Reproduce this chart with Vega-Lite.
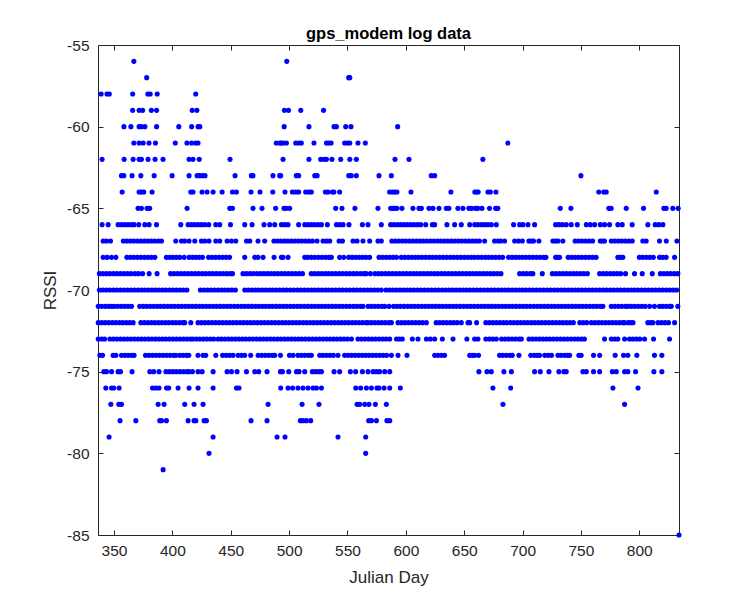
{
"$schema": "https://vega.github.io/schema/vega-lite/v6.json",
"width": 581, "height": 490,
"autosize": {"type": "none"},
"padding": {"left": 98, "top": 45, "right": 71, "bottom": 65},
"background": "white",
"title": {"text": "gps_modem log data", "fontSize": 16.5, "fontWeight": "bold", "font": "Liberation Sans", "color": "#000000", "offset": -4, "anchor": "middle"},
"config": {"view": {"stroke": "#262626", "strokeWidth": 1}},
"data": {"values": [
{"d":367,"r":-56},{"d":498,"r":-56},
{"d":378,"r":-57},{"d":551,"r":-57},{"d":552,"r":-57},
{"d":339,"r":-58},{"d":344,"r":-58},{"d":346,"r":-58},{"d":366,"r":-58},{"d":379,"r":-58},{"d":381,"r":-58},{"d":387,"r":-58},{"d":420,"r":-58},
{"d":366,"r":-59},{"d":371.5,"r":-59},{"d":374.5,"r":-59},{"d":382,"r":-59},{"d":386.5,"r":-59},{"d":417,"r":-59},{"d":421,"r":-59},{"d":496,"r":-59},{"d":499.5,"r":-59},{"d":510,"r":-59},{"d":529.5,"r":-59},
{"d":358.5,"r":-60},{"d":364.5,"r":-60},{"d":371.5,"r":-60},{"d":373.5,"r":-60},{"d":376.5,"r":-60},{"d":386.5,"r":-60},{"d":405.5,"r":-60},{"d":416.5,"r":-60},{"d":422,"r":-60},{"d":423.5,"r":-60},{"d":495.8,"r":-60},{"d":517,"r":-60},{"d":538.5,"r":-60},{"d":540.5,"r":-60},{"d":548.5,"r":-60},{"d":553,"r":-60},{"d":593,"r":-60},
{"d":367,"r":-61},{"d":371.5,"r":-61},{"d":375,"r":-61},{"d":380,"r":-61},{"d":385.5,"r":-61},{"d":402.5,"r":-61},{"d":412.5,"r":-61},{"d":416.5,"r":-61},{"d":420,"r":-61},{"d":422,"r":-61},{"d":489,"r":-61},{"d":492,"r":-61},{"d":493.4,"r":-61},{"d":495,"r":-61},{"d":497.7,"r":-61},{"d":505.7,"r":-61},{"d":508.2,"r":-61},{"d":510.5,"r":-61},{"d":521.3,"r":-61},{"d":532,"r":-61},{"d":534,"r":-61},{"d":536,"r":-61},{"d":547.6,"r":-61},{"d":550,"r":-61},{"d":552,"r":-61},{"d":559,"r":-61},{"d":565.3,"r":-61},{"d":687.4,"r":-61},
{"d":339.8,"r":-62},{"d":358.7,"r":-62},{"d":366.4,"r":-62},{"d":371.5,"r":-62},{"d":373.5,"r":-62},{"d":379.2,"r":-62},{"d":385.2,"r":-62},{"d":392,"r":-62},{"d":414.3,"r":-62},{"d":417.7,"r":-62},{"d":423,"r":-62},{"d":449.4,"r":-62},{"d":494.8,"r":-62},{"d":517,"r":-62},{"d":527,"r":-62},{"d":530,"r":-62},{"d":532,"r":-62},{"d":536.7,"r":-62},{"d":544.2,"r":-62},{"d":552,"r":-62},{"d":557.6,"r":-62},{"d":590.7,"r":-62},{"d":602.7,"r":-62},{"d":666,"r":-62},
{"d":356.4,"r":-63},{"d":358.4,"r":-63},{"d":365.5,"r":-63},{"d":373,"r":-63},{"d":384.4,"r":-63},{"d":399.8,"r":-63},{"d":414.3,"r":-63},{"d":421.2,"r":-63},{"d":423.5,"r":-63},{"d":425.8,"r":-63},{"d":428,"r":-63},{"d":453.7,"r":-63},{"d":467.7,"r":-63},{"d":469.1,"r":-63},{"d":486.2,"r":-63},{"d":491.9,"r":-63},{"d":492.8,"r":-63},{"d":506.2,"r":-63},{"d":508.2,"r":-63},{"d":522,"r":-63},{"d":524,"r":-63},{"d":551.1,"r":-63},{"d":553.3,"r":-63},{"d":557.6,"r":-63},{"d":577,"r":-63},{"d":587.6,"r":-63},{"d":621.8,"r":-63},{"d":624.7,"r":-63},{"d":750,"r":-63},
{"d":357,"r":-64},{"d":371.5,"r":-64},{"d":373.5,"r":-64},{"d":375.5,"r":-64},{"d":382.6,"r":-64},{"d":415.8,"r":-64},{"d":417.7,"r":-64},{"d":425.4,"r":-64},{"d":429.7,"r":-64},{"d":434.9,"r":-64},{"d":442.6,"r":-64},{"d":451.5,"r":-64},{"d":454.9,"r":-64},{"d":467.4,"r":-64},{"d":475.1,"r":-64},{"d":486,"r":-64},{"d":496.5,"r":-64},{"d":502.8,"r":-64},{"d":505.7,"r":-64},{"d":508.2,"r":-64},{"d":514.2,"r":-64},{"d":517,"r":-64},{"d":519.1,"r":-64},{"d":531.1,"r":-64},{"d":533.3,"r":-64},{"d":537.1,"r":-64},{"d":538.4,"r":-64},{"d":543.3,"r":-64},{"d":586.1,"r":-64},{"d":588.4,"r":-64},{"d":590.4,"r":-64},{"d":592.4,"r":-64},{"d":604.4,"r":-64},{"d":638.6,"r":-64},{"d":659.1,"r":-64},{"d":660.5,"r":-64},{"d":662,"r":-64},{"d":670.3,"r":-64},{"d":672.4,"r":-64},{"d":677.2,"r":-64},{"d":765.3,"r":-64},{"d":769.6,"r":-64},{"d":771.7,"r":-64},{"d":814.5,"r":-64},
{"d":370.6,"r":-65},{"d":373.5,"r":-65},{"d":378.3,"r":-65},{"d":380.6,"r":-65},{"d":412.6,"r":-65},{"d":449.2,"r":-65},{"d":451.5,"r":-65},{"d":469.1,"r":-65},{"d":476.8,"r":-65},{"d":488.5,"r":-65},{"d":495.6,"r":-65},{"d":497.5,"r":-65},{"d":500.5,"r":-65},{"d":539.9,"r":-65},{"d":545.3,"r":-65},{"d":556.4,"r":-65},{"d":576.1,"r":-65},{"d":587,"r":-65},{"d":589,"r":-65},{"d":590.4,"r":-65},{"d":592.4,"r":-65},{"d":596.7,"r":-65},{"d":606.1,"r":-65},{"d":611.3,"r":-65},{"d":613.3,"r":-65},{"d":619.8,"r":-65},{"d":623.2,"r":-65},{"d":628.4,"r":-65},{"d":634.7,"r":-65},{"d":636.9,"r":-65},{"d":644.6,"r":-65},{"d":648.9,"r":-65},{"d":654,"r":-65},{"d":656.5,"r":-65},{"d":659.8,"r":-65},{"d":661.7,"r":-65},{"d":665.2,"r":-65},{"d":671.7,"r":-65},{"d":676.9,"r":-65},{"d":678.8,"r":-65},{"d":732.3,"r":-65},{"d":741.4,"r":-65},{"d":773.9,"r":-65},{"d":775.9,"r":-65},{"d":788.8,"r":-65},{"d":803.6,"r":-65},{"d":821,"r":-65},{"d":823,"r":-65},{"d":828.7,"r":-65},{"d":833.3,"r":-65},
{"d":339.8,"r":-66},{"d":345,"r":-66},{"d":353.5,"r":-66},{"d":356.4,"r":-66},{"d":359.3,"r":-66},{"d":362.1,"r":-66},{"d":365,"r":-66},{"d":367.2,"r":-66},{"d":371.2,"r":-66},{"d":376.4,"r":-66},{"d":380.1,"r":-66},{"d":386.4,"r":-66},{"d":407.2,"r":-66},{"d":413.5,"r":-66},{"d":416.4,"r":-66},{"d":419.2,"r":-66},{"d":422,"r":-66},{"d":424.9,"r":-66},{"d":427.8,"r":-66},{"d":431.2,"r":-66},{"d":437.2,"r":-66},{"d":440.6,"r":-66},{"d":449.8,"r":-66},{"d":462,"r":-66},{"d":468.3,"r":-66},{"d":478.5,"r":-66},{"d":483.4,"r":-66},{"d":487.7,"r":-66},{"d":493.4,"r":-66},{"d":496.3,"r":-66},{"d":499.1,"r":-66},{"d":508.2,"r":-66},{"d":513.4,"r":-66},{"d":516.2,"r":-66},{"d":519.1,"r":-66},{"d":521.9,"r":-66},{"d":524.8,"r":-66},{"d":527.7,"r":-66},{"d":532.8,"r":-66},{"d":540.5,"r":-66},{"d":543.3,"r":-66},{"d":546.2,"r":-66},{"d":551.3,"r":-66},{"d":562.8,"r":-66},{"d":567.6,"r":-66},{"d":579,"r":-66},{"d":587,"r":-66},{"d":589.8,"r":-66},{"d":592.7,"r":-66},{"d":595.6,"r":-66},{"d":598.4,"r":-66},{"d":601.3,"r":-66},{"d":604.1,"r":-66},{"d":606.9,"r":-66},{"d":609.9,"r":-66},{"d":612.7,"r":-66},{"d":617,"r":-66},{"d":622.7,"r":-66},{"d":624.7,"r":-66},{"d":635.2,"r":-66},{"d":641.8,"r":-66},{"d":647.5,"r":-66},{"d":654.7,"r":-66},{"d":659,"r":-66},{"d":661.8,"r":-66},{"d":664.7,"r":-66},{"d":667.5,"r":-66},{"d":670.3,"r":-66},{"d":673.2,"r":-66},{"d":677.5,"r":-66},{"d":692.3,"r":-66},{"d":697.5,"r":-66},{"d":700.3,"r":-66},{"d":704.6,"r":-66},{"d":710.3,"r":-66},{"d":728.3,"r":-66},{"d":731.1,"r":-66},{"d":734,"r":-66},{"d":737.4,"r":-66},{"d":741.7,"r":-66},{"d":746.9,"r":-66},{"d":754.6,"r":-66},{"d":758,"r":-66},{"d":761.7,"r":-66},{"d":766.6,"r":-66},{"d":770.2,"r":-66},{"d":774.5,"r":-66},{"d":781.6,"r":-66},{"d":785.4,"r":-66},{"d":793.9,"r":-66},{"d":807.3,"r":-66},{"d":813.6,"r":-66},{"d":816.7,"r":-66},{"d":820.2,"r":-66},
{"d":340.7,"r":-67},{"d":343.6,"r":-67},{"d":347,"r":-67},{"d":358,"r":-67},{"d":361,"r":-67},{"d":364,"r":-67},{"d":367,"r":-67},{"d":370,"r":-67},{"d":373,"r":-67},{"d":376,"r":-67},{"d":379,"r":-67},{"d":382,"r":-67},{"d":385,"r":-67},{"d":388,"r":-67},{"d":390.7,"r":-67},{"d":402.9,"r":-67},{"d":407.8,"r":-67},{"d":410.6,"r":-67},{"d":414.3,"r":-67},{"d":419.2,"r":-67},{"d":424.9,"r":-67},{"d":427.8,"r":-67},{"d":431.4,"r":-67},{"d":437.2,"r":-67},{"d":440.6,"r":-67},{"d":446.9,"r":-67},{"d":450.6,"r":-67},{"d":454.3,"r":-67},{"d":463.5,"r":-67},{"d":466.3,"r":-67},{"d":473.4,"r":-67},{"d":479.1,"r":-67},{"d":487,"r":-67},{"d":490,"r":-67},{"d":493,"r":-67},{"d":496,"r":-67},{"d":499,"r":-67},{"d":502,"r":-67},{"d":505,"r":-67},{"d":508,"r":-67},{"d":511,"r":-67},{"d":514,"r":-67},{"d":517,"r":-67},{"d":520,"r":-67},{"d":523.9,"r":-67},{"d":529.1,"r":-67},{"d":532,"r":-67},{"d":534.8,"r":-67},{"d":542.8,"r":-67},{"d":545.7,"r":-67},{"d":554.7,"r":-67},{"d":558.2,"r":-67},{"d":563.3,"r":-67},{"d":569,"r":-67},{"d":576.1,"r":-67},{"d":579,"r":-67},{"d":588,"r":-67},{"d":591,"r":-67},{"d":594,"r":-67},{"d":597,"r":-67},{"d":600,"r":-67},{"d":603,"r":-67},{"d":606,"r":-67},{"d":609,"r":-67},{"d":612,"r":-67},{"d":615,"r":-67},{"d":618,"r":-67},{"d":621,"r":-67},{"d":624,"r":-67},{"d":627,"r":-67},{"d":630,"r":-67},{"d":633,"r":-67},{"d":636,"r":-67},{"d":639,"r":-67},{"d":642,"r":-67},{"d":645,"r":-67},{"d":648,"r":-67},{"d":651,"r":-67},{"d":654,"r":-67},{"d":657,"r":-67},{"d":660,"r":-67},{"d":663,"r":-67},{"d":667.5,"r":-67},{"d":676,"r":-67},{"d":678.9,"r":-67},{"d":681.2,"r":-67},{"d":684.6,"r":-67},{"d":693.2,"r":-67},{"d":696.5,"r":-67},{"d":699.8,"r":-67},{"d":705.4,"r":-67},{"d":707.4,"r":-67},{"d":709.4,"r":-67},{"d":714,"r":-67},{"d":726,"r":-67},{"d":728.2,"r":-67},{"d":730.3,"r":-67},{"d":734.5,"r":-67},{"d":745,"r":-67},{"d":748,"r":-67},{"d":751,"r":-67},{"d":754,"r":-67},{"d":757,"r":-67},{"d":760,"r":-67},{"d":766.6,"r":-67},{"d":768.5,"r":-67},{"d":770.2,"r":-67},{"d":776,"r":-67},{"d":779,"r":-67},{"d":782,"r":-67},{"d":785,"r":-67},{"d":788,"r":-67},{"d":791,"r":-67},{"d":794,"r":-67},{"d":803,"r":-67},{"d":805.9,"r":-67},{"d":817.3,"r":-67},{"d":823.1,"r":-67},{"d":832.2,"r":-67},
{"d":340.7,"r":-68},{"d":344.1,"r":-68},{"d":347.9,"r":-68},{"d":351.6,"r":-68},{"d":361,"r":-68},{"d":364,"r":-68},{"d":367,"r":-68},{"d":370,"r":-68},{"d":373,"r":-68},{"d":376,"r":-68},{"d":379,"r":-68},{"d":382,"r":-68},{"d":385,"r":-68},{"d":394.9,"r":-68},{"d":397.8,"r":-68},{"d":400.6,"r":-68},{"d":403.5,"r":-68},{"d":406.4,"r":-68},{"d":410.1,"r":-68},{"d":414.3,"r":-68},{"d":417.2,"r":-68},{"d":420.1,"r":-68},{"d":422.9,"r":-68},{"d":425.8,"r":-68},{"d":431,"r":-68},{"d":434,"r":-68},{"d":437,"r":-68},{"d":440,"r":-68},{"d":443,"r":-68},{"d":446,"r":-68},{"d":449,"r":-68},{"d":462,"r":-68},{"d":470.6,"r":-68},{"d":473.4,"r":-68},{"d":477.7,"r":-68},{"d":487.1,"r":-68},{"d":493.4,"r":-68},{"d":494.8,"r":-68},{"d":499.1,"r":-68},{"d":513.4,"r":-68},{"d":516,"r":-68},{"d":519,"r":-68},{"d":522,"r":-68},{"d":525,"r":-68},{"d":528,"r":-68},{"d":531,"r":-68},{"d":534,"r":-68},{"d":536.2,"r":-68},{"d":543.3,"r":-68},{"d":546.8,"r":-68},{"d":551,"r":-68},{"d":554,"r":-68},{"d":557,"r":-68},{"d":560,"r":-68},{"d":563,"r":-68},{"d":566,"r":-68},{"d":569,"r":-68},{"d":577,"r":-68},{"d":580,"r":-68},{"d":583,"r":-68},{"d":586,"r":-68},{"d":589,"r":-68},{"d":592,"r":-68},{"d":596,"r":-68},{"d":599,"r":-68},{"d":602,"r":-68},{"d":605,"r":-68},{"d":608,"r":-68},{"d":611,"r":-68},{"d":614,"r":-68},{"d":617,"r":-68},{"d":620,"r":-68},{"d":623,"r":-68},{"d":626,"r":-68},{"d":629,"r":-68},{"d":632,"r":-68},{"d":635,"r":-68},{"d":638,"r":-68},{"d":641,"r":-68},{"d":644,"r":-68},{"d":647,"r":-68},{"d":650,"r":-68},{"d":653,"r":-68},{"d":656,"r":-68},{"d":659,"r":-68},{"d":662,"r":-68},{"d":665,"r":-68},{"d":668,"r":-68},{"d":671,"r":-68},{"d":674,"r":-68},{"d":677,"r":-68},{"d":680,"r":-68},{"d":683,"r":-68},{"d":688,"r":-68},{"d":691,"r":-68},{"d":694,"r":-68},{"d":697,"r":-68},{"d":700,"r":-68},{"d":703,"r":-68},{"d":706,"r":-68},{"d":709,"r":-68},{"d":712,"r":-68},{"d":715,"r":-68},{"d":718,"r":-68},{"d":720,"r":-68},{"d":728.3,"r":-68},{"d":730,"r":-68},{"d":731.7,"r":-68},{"d":739,"r":-68},{"d":742,"r":-68},{"d":745,"r":-68},{"d":748,"r":-68},{"d":751,"r":-68},{"d":754,"r":-68},{"d":757,"r":-68},{"d":760,"r":-68},{"d":763,"r":-68},{"d":781.6,"r":-68},{"d":783.8,"r":-68},{"d":785.9,"r":-68},{"d":800,"r":-68},{"d":803,"r":-68},{"d":806,"r":-68},{"d":809,"r":-68},{"d":812,"r":-68},{"d":817.3,"r":-68},{"d":820,"r":-68},{"d":823,"r":-68},{"d":830.2,"r":-68},
{"d":337.5,"r":-69},{"d":340.5,"r":-69},{"d":343.5,"r":-69},{"d":346.5,"r":-69},{"d":349.5,"r":-69},{"d":352.5,"r":-69},{"d":355.5,"r":-69},{"d":358.5,"r":-69},{"d":361.5,"r":-69},{"d":364.5,"r":-69},{"d":368,"r":-69},{"d":371,"r":-69},{"d":374.5,"r":-69},{"d":380.1,"r":-69},{"d":386.9,"r":-69},{"d":398.5,"r":-69},{"d":401.5,"r":-69},{"d":404.5,"r":-69},{"d":407.5,"r":-69},{"d":410.5,"r":-69},{"d":413.5,"r":-69},{"d":416.5,"r":-69},{"d":419.5,"r":-69},{"d":422.5,"r":-69},{"d":425.5,"r":-69},{"d":428.5,"r":-69},{"d":431.5,"r":-69},{"d":434.5,"r":-69},{"d":437.5,"r":-69},{"d":440.5,"r":-69},{"d":443.5,"r":-69},{"d":446.5,"r":-69},{"d":449.5,"r":-69},{"d":451.5,"r":-69},{"d":460.5,"r":-69},{"d":463.5,"r":-69},{"d":466.5,"r":-69},{"d":469.5,"r":-69},{"d":472.5,"r":-69},{"d":475.5,"r":-69},{"d":478.5,"r":-69},{"d":481.5,"r":-69},{"d":484.5,"r":-69},{"d":487.5,"r":-69},{"d":490.5,"r":-69},{"d":493.5,"r":-69},{"d":496.5,"r":-69},{"d":499.5,"r":-69},{"d":502.5,"r":-69},{"d":505.5,"r":-69},{"d":508.5,"r":-69},{"d":511.5,"r":-69},{"d":519,"r":-69},{"d":522,"r":-69},{"d":525,"r":-69},{"d":528,"r":-69},{"d":531,"r":-69},{"d":534,"r":-69},{"d":537,"r":-69},{"d":540,"r":-69},{"d":543,"r":-69},{"d":546,"r":-69},{"d":549,"r":-69},{"d":552,"r":-69},{"d":555,"r":-69},{"d":558,"r":-69},{"d":561,"r":-69},{"d":564,"r":-69},{"d":566,"r":-69},{"d":569.6,"r":-69},{"d":573.5,"r":-69},{"d":576.5,"r":-69},{"d":579.5,"r":-69},{"d":582.5,"r":-69},{"d":585.5,"r":-69},{"d":588.5,"r":-69},{"d":591.5,"r":-69},{"d":594.5,"r":-69},{"d":597.5,"r":-69},{"d":600.5,"r":-69},{"d":603.5,"r":-69},{"d":606.5,"r":-69},{"d":609.5,"r":-69},{"d":612.5,"r":-69},{"d":615.5,"r":-69},{"d":618.5,"r":-69},{"d":621.5,"r":-69},{"d":624.5,"r":-69},{"d":627.5,"r":-69},{"d":630.5,"r":-69},{"d":633.5,"r":-69},{"d":636.5,"r":-69},{"d":639.5,"r":-69},{"d":642.5,"r":-69},{"d":645.5,"r":-69},{"d":648.5,"r":-69},{"d":651.5,"r":-69},{"d":654.5,"r":-69},{"d":657.5,"r":-69},{"d":660.5,"r":-69},{"d":663.5,"r":-69},{"d":666.5,"r":-69},{"d":669.5,"r":-69},{"d":672.5,"r":-69},{"d":675.5,"r":-69},{"d":678.5,"r":-69},{"d":681.5,"r":-69},{"d":697.5,"r":-69},{"d":700.5,"r":-69},{"d":703.5,"r":-69},{"d":706.5,"r":-69},{"d":708.8,"r":-69},{"d":716.9,"r":-69},{"d":725.5,"r":-69},{"d":728.5,"r":-69},{"d":731.5,"r":-69},{"d":734.5,"r":-69},{"d":737.5,"r":-69},{"d":740.5,"r":-69},{"d":743.5,"r":-69},{"d":746.5,"r":-69},{"d":749.5,"r":-69},{"d":752.5,"r":-69},{"d":755.5,"r":-69},{"d":766,"r":-69},{"d":769,"r":-69},{"d":772,"r":-69},{"d":775,"r":-69},{"d":778,"r":-69},{"d":781,"r":-69},{"d":784,"r":-69},{"d":788.2,"r":-69},{"d":795.9,"r":-69},{"d":802.5,"r":-69},{"d":811.1,"r":-69},{"d":818,"r":-69},{"d":821,"r":-69},{"d":824,"r":-69},{"d":827,"r":-69},{"d":830,"r":-69},{"d":833,"r":-69},
{"d":337.5,"r":-70},{"d":340.5,"r":-70},{"d":343.5,"r":-70},{"d":346.5,"r":-70},{"d":349.5,"r":-70},{"d":352.5,"r":-70},{"d":355.5,"r":-70},{"d":358.5,"r":-70},{"d":361.5,"r":-70},{"d":364.5,"r":-70},{"d":367.5,"r":-70},{"d":370.5,"r":-70},{"d":373.5,"r":-70},{"d":376.5,"r":-70},{"d":379.5,"r":-70},{"d":382.5,"r":-70},{"d":385.5,"r":-70},{"d":388.5,"r":-70},{"d":391.5,"r":-70},{"d":394.5,"r":-70},{"d":397.5,"r":-70},{"d":400.5,"r":-70},{"d":403.5,"r":-70},{"d":406.5,"r":-70},{"d":409.5,"r":-70},{"d":412.5,"r":-70},{"d":424,"r":-70},{"d":427,"r":-70},{"d":430,"r":-70},{"d":433,"r":-70},{"d":436,"r":-70},{"d":439,"r":-70},{"d":442,"r":-70},{"d":445,"r":-70},{"d":448,"r":-70},{"d":451,"r":-70},{"d":454,"r":-70},{"d":462,"r":-70},{"d":465,"r":-70},{"d":468,"r":-70},{"d":471,"r":-70},{"d":474,"r":-70},{"d":477,"r":-70},{"d":480,"r":-70},{"d":483,"r":-70},{"d":486,"r":-70},{"d":489,"r":-70},{"d":492,"r":-70},{"d":495,"r":-70},{"d":498,"r":-70},{"d":501,"r":-70},{"d":504,"r":-70},{"d":507,"r":-70},{"d":510,"r":-70},{"d":513,"r":-70},{"d":516,"r":-70},{"d":519,"r":-70},{"d":522,"r":-70},{"d":525,"r":-70},{"d":528,"r":-70},{"d":531,"r":-70},{"d":534,"r":-70},{"d":537,"r":-70},{"d":540,"r":-70},{"d":543,"r":-70},{"d":546,"r":-70},{"d":549,"r":-70},{"d":552,"r":-70},{"d":555,"r":-70},{"d":558,"r":-70},{"d":561,"r":-70},{"d":564,"r":-70},{"d":567,"r":-70},{"d":570,"r":-70},{"d":573,"r":-70},{"d":576,"r":-70},{"d":579,"r":-70},{"d":583,"r":-70},{"d":586,"r":-70},{"d":589,"r":-70},{"d":592,"r":-70},{"d":595,"r":-70},{"d":598,"r":-70},{"d":601,"r":-70},{"d":604,"r":-70},{"d":607,"r":-70},{"d":610,"r":-70},{"d":613,"r":-70},{"d":616,"r":-70},{"d":619,"r":-70},{"d":622,"r":-70},{"d":625,"r":-70},{"d":628,"r":-70},{"d":631,"r":-70},{"d":634,"r":-70},{"d":637,"r":-70},{"d":640,"r":-70},{"d":643,"r":-70},{"d":646,"r":-70},{"d":649,"r":-70},{"d":652,"r":-70},{"d":655,"r":-70},{"d":658,"r":-70},{"d":661,"r":-70},{"d":664,"r":-70},{"d":667,"r":-70},{"d":670,"r":-70},{"d":673,"r":-70},{"d":676,"r":-70},{"d":679,"r":-70},{"d":682,"r":-70},{"d":685,"r":-70},{"d":688,"r":-70},{"d":691,"r":-70},{"d":694,"r":-70},{"d":697,"r":-70},{"d":700,"r":-70},{"d":703,"r":-70},{"d":706,"r":-70},{"d":709,"r":-70},{"d":712,"r":-70},{"d":715,"r":-70},{"d":718,"r":-70},{"d":721,"r":-70},{"d":724,"r":-70},{"d":727,"r":-70},{"d":730,"r":-70},{"d":733,"r":-70},{"d":736,"r":-70},{"d":739,"r":-70},{"d":742,"r":-70},{"d":745,"r":-70},{"d":748,"r":-70},{"d":751,"r":-70},{"d":754,"r":-70},{"d":757,"r":-70},{"d":760,"r":-70},{"d":763,"r":-70},{"d":766,"r":-70},{"d":769,"r":-70},{"d":772,"r":-70},{"d":775,"r":-70},{"d":778,"r":-70},{"d":781,"r":-70},{"d":784,"r":-70},{"d":787,"r":-70},{"d":790,"r":-70},{"d":793,"r":-70},{"d":796,"r":-70},{"d":799,"r":-70},{"d":802,"r":-70},{"d":805,"r":-70},{"d":808,"r":-70},{"d":811,"r":-70},{"d":814,"r":-70},{"d":817,"r":-70},{"d":820,"r":-70},{"d":823,"r":-70},{"d":826,"r":-70},{"d":829,"r":-70},{"d":832,"r":-70},
{"d":336.5,"r":-71},{"d":339.5,"r":-71},{"d":342.5,"r":-71},{"d":345.5,"r":-71},{"d":347.9,"r":-71},{"d":350,"r":-71},{"d":353,"r":-71},{"d":356,"r":-71},{"d":359,"r":-71},{"d":362,"r":-71},{"d":365,"r":-71},{"d":372,"r":-71},{"d":375,"r":-71},{"d":378,"r":-71},{"d":381,"r":-71},{"d":384,"r":-71},{"d":387,"r":-71},{"d":390,"r":-71},{"d":393,"r":-71},{"d":396,"r":-71},{"d":399,"r":-71},{"d":402,"r":-71},{"d":405,"r":-71},{"d":408,"r":-71},{"d":411,"r":-71},{"d":414,"r":-71},{"d":417,"r":-71},{"d":420,"r":-71},{"d":423,"r":-71},{"d":426,"r":-71},{"d":429,"r":-71},{"d":432,"r":-71},{"d":435,"r":-71},{"d":438,"r":-71},{"d":441,"r":-71},{"d":444,"r":-71},{"d":447,"r":-71},{"d":450,"r":-71},{"d":453,"r":-71},{"d":456,"r":-71},{"d":459,"r":-71},{"d":462,"r":-71},{"d":465,"r":-71},{"d":468,"r":-71},{"d":471,"r":-71},{"d":474,"r":-71},{"d":477,"r":-71},{"d":480,"r":-71},{"d":483,"r":-71},{"d":486,"r":-71},{"d":489,"r":-71},{"d":492,"r":-71},{"d":495,"r":-71},{"d":498,"r":-71},{"d":501,"r":-71},{"d":504,"r":-71},{"d":507,"r":-71},{"d":510,"r":-71},{"d":513,"r":-71},{"d":516,"r":-71},{"d":519,"r":-71},{"d":522,"r":-71},{"d":525,"r":-71},{"d":528,"r":-71},{"d":531,"r":-71},{"d":534,"r":-71},{"d":537,"r":-71},{"d":540,"r":-71},{"d":543,"r":-71},{"d":546,"r":-71},{"d":549,"r":-71},{"d":552,"r":-71},{"d":555,"r":-71},{"d":558,"r":-71},{"d":561,"r":-71},{"d":563.3,"r":-71},{"d":567.6,"r":-71},{"d":570.5,"r":-71},{"d":573.5,"r":-71},{"d":576.5,"r":-71},{"d":579.5,"r":-71},{"d":582,"r":-71},{"d":585.6,"r":-71},{"d":589.5,"r":-71},{"d":592.5,"r":-71},{"d":595.5,"r":-71},{"d":598.5,"r":-71},{"d":601.5,"r":-71},{"d":604.5,"r":-71},{"d":607.5,"r":-71},{"d":610.5,"r":-71},{"d":613.5,"r":-71},{"d":616.5,"r":-71},{"d":619.5,"r":-71},{"d":622.5,"r":-71},{"d":625.5,"r":-71},{"d":628.5,"r":-71},{"d":631.5,"r":-71},{"d":634.5,"r":-71},{"d":637.5,"r":-71},{"d":640.5,"r":-71},{"d":643.5,"r":-71},{"d":646.5,"r":-71},{"d":649.5,"r":-71},{"d":652.5,"r":-71},{"d":655.5,"r":-71},{"d":658.5,"r":-71},{"d":661.5,"r":-71},{"d":664.5,"r":-71},{"d":667.5,"r":-71},{"d":670.5,"r":-71},{"d":673.5,"r":-71},{"d":676.5,"r":-71},{"d":679.5,"r":-71},{"d":682.5,"r":-71},{"d":685.5,"r":-71},{"d":688.5,"r":-71},{"d":691.5,"r":-71},{"d":694.5,"r":-71},{"d":697.5,"r":-71},{"d":700.5,"r":-71},{"d":703.5,"r":-71},{"d":706.5,"r":-71},{"d":709.5,"r":-71},{"d":712.5,"r":-71},{"d":715.5,"r":-71},{"d":718.5,"r":-71},{"d":721.5,"r":-71},{"d":724.5,"r":-71},{"d":727.5,"r":-71},{"d":730.5,"r":-71},{"d":733.5,"r":-71},{"d":736.5,"r":-71},{"d":739.5,"r":-71},{"d":742.5,"r":-71},{"d":745.5,"r":-71},{"d":748.5,"r":-71},{"d":751.5,"r":-71},{"d":754.5,"r":-71},{"d":757.5,"r":-71},{"d":760.5,"r":-71},{"d":763.5,"r":-71},{"d":766.5,"r":-71},{"d":768.8,"r":-71},{"d":776,"r":-71},{"d":779,"r":-71},{"d":782,"r":-71},{"d":785,"r":-71},{"d":788,"r":-71},{"d":790.2,"r":-71},{"d":793,"r":-71},{"d":796,"r":-71},{"d":799,"r":-71},{"d":802,"r":-71},{"d":805,"r":-71},{"d":808.8,"r":-71},{"d":813,"r":-71},{"d":817.3,"r":-71},{"d":820,"r":-71},{"d":823,"r":-71},{"d":826,"r":-71},{"d":827.4,"r":-71},{"d":833,"r":-71},
{"d":336.5,"r":-72},{"d":339.5,"r":-72},{"d":342.5,"r":-72},{"d":345.5,"r":-72},{"d":348.5,"r":-72},{"d":351.5,"r":-72},{"d":354.5,"r":-72},{"d":357.5,"r":-72},{"d":360.5,"r":-72},{"d":363.5,"r":-72},{"d":366.4,"r":-72},{"d":373,"r":-72},{"d":376,"r":-72},{"d":379,"r":-72},{"d":382,"r":-72},{"d":385,"r":-72},{"d":388,"r":-72},{"d":391,"r":-72},{"d":394,"r":-72},{"d":397,"r":-72},{"d":400,"r":-72},{"d":403,"r":-72},{"d":406,"r":-72},{"d":409,"r":-72},{"d":410.6,"r":-72},{"d":415.8,"r":-72},{"d":422,"r":-72},{"d":425,"r":-72},{"d":428,"r":-72},{"d":431,"r":-72},{"d":434,"r":-72},{"d":437,"r":-72},{"d":440,"r":-72},{"d":443,"r":-72},{"d":446,"r":-72},{"d":449,"r":-72},{"d":452,"r":-72},{"d":455,"r":-72},{"d":458,"r":-72},{"d":461,"r":-72},{"d":464,"r":-72},{"d":467,"r":-72},{"d":470,"r":-72},{"d":473,"r":-72},{"d":476,"r":-72},{"d":479,"r":-72},{"d":482,"r":-72},{"d":485,"r":-72},{"d":488,"r":-72},{"d":491,"r":-72},{"d":494,"r":-72},{"d":497,"r":-72},{"d":500,"r":-72},{"d":503,"r":-72},{"d":506,"r":-72},{"d":509,"r":-72},{"d":512,"r":-72},{"d":515,"r":-72},{"d":518,"r":-72},{"d":521,"r":-72},{"d":524,"r":-72},{"d":527,"r":-72},{"d":530,"r":-72},{"d":533,"r":-72},{"d":536,"r":-72},{"d":539,"r":-72},{"d":542,"r":-72},{"d":545,"r":-72},{"d":548,"r":-72},{"d":551,"r":-72},{"d":554,"r":-72},{"d":557,"r":-72},{"d":560,"r":-72},{"d":563,"r":-72},{"d":566,"r":-72},{"d":567.6,"r":-72},{"d":570.5,"r":-72},{"d":573.5,"r":-72},{"d":576.5,"r":-72},{"d":579.5,"r":-72},{"d":582.5,"r":-72},{"d":585.5,"r":-72},{"d":587.6,"r":-72},{"d":593.3,"r":-72},{"d":596.3,"r":-72},{"d":599.3,"r":-72},{"d":602.3,"r":-72},{"d":605.3,"r":-72},{"d":608.3,"r":-72},{"d":611.3,"r":-72},{"d":614.3,"r":-72},{"d":617.6,"r":-72},{"d":626,"r":-72},{"d":629,"r":-72},{"d":632,"r":-72},{"d":635,"r":-72},{"d":638,"r":-72},{"d":641,"r":-72},{"d":644,"r":-72},{"d":647.5,"r":-72},{"d":653.2,"r":-72},{"d":654.7,"r":-72},{"d":660.6,"r":-72},{"d":668.5,"r":-72},{"d":671.5,"r":-72},{"d":674.5,"r":-72},{"d":677.5,"r":-72},{"d":680.5,"r":-72},{"d":683.5,"r":-72},{"d":686.5,"r":-72},{"d":689.5,"r":-72},{"d":692.5,"r":-72},{"d":695.5,"r":-72},{"d":698.5,"r":-72},{"d":701.5,"r":-72},{"d":704.5,"r":-72},{"d":707.5,"r":-72},{"d":710.5,"r":-72},{"d":713.5,"r":-72},{"d":716.5,"r":-72},{"d":719.5,"r":-72},{"d":722.5,"r":-72},{"d":725.5,"r":-72},{"d":728.5,"r":-72},{"d":731.5,"r":-72},{"d":734.5,"r":-72},{"d":737.5,"r":-72},{"d":740.5,"r":-72},{"d":743.5,"r":-72},{"d":749,"r":-72},{"d":752,"r":-72},{"d":755,"r":-72},{"d":758.9,"r":-72},{"d":762,"r":-72},{"d":765,"r":-72},{"d":768,"r":-72},{"d":771,"r":-72},{"d":774,"r":-72},{"d":777,"r":-72},{"d":780,"r":-72},{"d":783,"r":-72},{"d":785.9,"r":-72},{"d":787.4,"r":-72},{"d":790.5,"r":-72},{"d":792.5,"r":-72},{"d":794.6,"r":-72},{"d":807.3,"r":-72},{"d":809.5,"r":-72},{"d":811.6,"r":-72},{"d":816,"r":-72},{"d":819,"r":-72},{"d":822,"r":-72},{"d":825,"r":-72},{"d":830.2,"r":-72},
{"d":336.5,"r":-73},{"d":339.5,"r":-73},{"d":342,"r":-73},{"d":346.5,"r":-73},{"d":349.5,"r":-73},{"d":352.5,"r":-73},{"d":355.5,"r":-73},{"d":358.5,"r":-73},{"d":361.5,"r":-73},{"d":364.5,"r":-73},{"d":367.5,"r":-73},{"d":370.5,"r":-73},{"d":373.5,"r":-73},{"d":376.5,"r":-73},{"d":379.5,"r":-73},{"d":382.5,"r":-73},{"d":385.5,"r":-73},{"d":388.5,"r":-73},{"d":391.5,"r":-73},{"d":394.5,"r":-73},{"d":397.5,"r":-73},{"d":400.5,"r":-73},{"d":403.5,"r":-73},{"d":406.5,"r":-73},{"d":409.5,"r":-73},{"d":412.5,"r":-73},{"d":415.5,"r":-73},{"d":417.7,"r":-73},{"d":420.6,"r":-73},{"d":423.5,"r":-73},{"d":426.5,"r":-73},{"d":429.5,"r":-73},{"d":432.5,"r":-73},{"d":435.5,"r":-73},{"d":439.2,"r":-73},{"d":442,"r":-73},{"d":445,"r":-73},{"d":448,"r":-73},{"d":451,"r":-73},{"d":454,"r":-73},{"d":457,"r":-73},{"d":460,"r":-73},{"d":463,"r":-73},{"d":466,"r":-73},{"d":469,"r":-73},{"d":472,"r":-73},{"d":475,"r":-73},{"d":478,"r":-73},{"d":481,"r":-73},{"d":484,"r":-73},{"d":487,"r":-73},{"d":490,"r":-73},{"d":493,"r":-73},{"d":496,"r":-73},{"d":499,"r":-73},{"d":502,"r":-73},{"d":505,"r":-73},{"d":508,"r":-73},{"d":511,"r":-73},{"d":514,"r":-73},{"d":517,"r":-73},{"d":520,"r":-73},{"d":523,"r":-73},{"d":526,"r":-73},{"d":529,"r":-73},{"d":532,"r":-73},{"d":535,"r":-73},{"d":538,"r":-73},{"d":541,"r":-73},{"d":544,"r":-73},{"d":547,"r":-73},{"d":550,"r":-73},{"d":553.4,"r":-73},{"d":559,"r":-73},{"d":562,"r":-73},{"d":565,"r":-73},{"d":568,"r":-73},{"d":571,"r":-73},{"d":574,"r":-73},{"d":577,"r":-73},{"d":580,"r":-73},{"d":583,"r":-73},{"d":586.2,"r":-73},{"d":592,"r":-73},{"d":594.5,"r":-73},{"d":597,"r":-73},{"d":605.6,"r":-73},{"d":610.4,"r":-73},{"d":617.6,"r":-73},{"d":621,"r":-73},{"d":624.7,"r":-73},{"d":631.3,"r":-73},{"d":640.4,"r":-73},{"d":652.3,"r":-73},{"d":658.9,"r":-73},{"d":661.8,"r":-73},{"d":668.5,"r":-73},{"d":671.5,"r":-73},{"d":674.5,"r":-73},{"d":677.5,"r":-73},{"d":682,"r":-73},{"d":685,"r":-73},{"d":688,"r":-73},{"d":691,"r":-73},{"d":694,"r":-73},{"d":697,"r":-73},{"d":699,"r":-73},{"d":705.5,"r":-73},{"d":708.5,"r":-73},{"d":711.5,"r":-73},{"d":714.5,"r":-73},{"d":717.5,"r":-73},{"d":720.5,"r":-73},{"d":723.5,"r":-73},{"d":726.5,"r":-73},{"d":729.5,"r":-73},{"d":732.5,"r":-73},{"d":735.5,"r":-73},{"d":738.5,"r":-73},{"d":741.5,"r":-73},{"d":744.5,"r":-73},{"d":747.5,"r":-73},{"d":750.5,"r":-73},{"d":753,"r":-73},{"d":770.2,"r":-73},{"d":776,"r":-73},{"d":779,"r":-73},{"d":781.6,"r":-73},{"d":787.4,"r":-73},{"d":791.6,"r":-73},{"d":794.5,"r":-73},{"d":797.5,"r":-73},{"d":800.5,"r":-73},{"d":804.5,"r":-73},{"d":812.2,"r":-73},{"d":825.9,"r":-73},
{"d":337.9,"r":-74},{"d":340.2,"r":-74},{"d":349.2,"r":-74},{"d":351.6,"r":-74},{"d":356.4,"r":-74},{"d":359.3,"r":-74},{"d":362.1,"r":-74},{"d":365,"r":-74},{"d":367.2,"r":-74},{"d":377,"r":-74},{"d":380,"r":-74},{"d":383,"r":-74},{"d":386,"r":-74},{"d":389,"r":-74},{"d":392,"r":-74},{"d":395,"r":-74},{"d":398,"r":-74},{"d":401,"r":-74},{"d":403,"r":-74},{"d":406.4,"r":-74},{"d":409.2,"r":-74},{"d":412.1,"r":-74},{"d":414.1,"r":-74},{"d":422,"r":-74},{"d":426.3,"r":-74},{"d":428.6,"r":-74},{"d":437.2,"r":-74},{"d":443,"r":-74},{"d":446,"r":-74},{"d":449,"r":-74},{"d":452,"r":-74},{"d":456.3,"r":-74},{"d":459.2,"r":-74},{"d":462,"r":-74},{"d":467.1,"r":-74},{"d":473.5,"r":-74},{"d":476.5,"r":-74},{"d":479.5,"r":-74},{"d":482.5,"r":-74},{"d":485.5,"r":-74},{"d":487.7,"r":-74},{"d":492.6,"r":-74},{"d":500.3,"r":-74},{"d":503.4,"r":-74},{"d":507.6,"r":-74},{"d":510.5,"r":-74},{"d":513.5,"r":-74},{"d":516.5,"r":-74},{"d":519.1,"r":-74},{"d":526.2,"r":-74},{"d":529,"r":-74},{"d":532,"r":-74},{"d":535,"r":-74},{"d":538,"r":-74},{"d":541.9,"r":-74},{"d":547.6,"r":-74},{"d":550.5,"r":-74},{"d":553.5,"r":-74},{"d":556.5,"r":-74},{"d":559.5,"r":-74},{"d":562.5,"r":-74},{"d":565.5,"r":-74},{"d":568.5,"r":-74},{"d":571.5,"r":-74},{"d":574.5,"r":-74},{"d":577.5,"r":-74},{"d":580.5,"r":-74},{"d":583.5,"r":-74},{"d":587.6,"r":-74},{"d":593.3,"r":-74},{"d":601,"r":-74},{"d":624.7,"r":-74},{"d":627.5,"r":-74},{"d":630.5,"r":-74},{"d":633.2,"r":-74},{"d":654.7,"r":-74},{"d":657,"r":-74},{"d":659,"r":-74},{"d":662.3,"r":-74},{"d":680.3,"r":-74},{"d":683,"r":-74},{"d":686,"r":-74},{"d":689,"r":-74},{"d":691.2,"r":-74},{"d":696.9,"r":-74},{"d":707,"r":-74},{"d":710,"r":-74},{"d":712.5,"r":-74},{"d":714.6,"r":-74},{"d":719,"r":-74},{"d":722,"r":-74},{"d":724.8,"r":-74},{"d":730.3,"r":-74},{"d":733,"r":-74},{"d":736,"r":-74},{"d":738.5,"r":-74},{"d":740.3,"r":-74},{"d":748.2,"r":-74},{"d":750.2,"r":-74},{"d":760.8,"r":-74},{"d":766,"r":-74},{"d":779.3,"r":-74},{"d":786.5,"r":-74},{"d":790.2,"r":-74},{"d":797.9,"r":-74},{"d":813,"r":-74},{"d":819.3,"r":-74},
{"d":341.3,"r":-75},{"d":343.6,"r":-75},{"d":347.9,"r":-75},{"d":353.5,"r":-75},{"d":355.6,"r":-75},{"d":365.5,"r":-75},{"d":380.7,"r":-75},{"d":384.1,"r":-75},{"d":388.6,"r":-75},{"d":394.5,"r":-75},{"d":397.5,"r":-75},{"d":400.5,"r":-75},{"d":403.5,"r":-75},{"d":406.5,"r":-75},{"d":409.5,"r":-75},{"d":412.5,"r":-75},{"d":414.3,"r":-75},{"d":417.2,"r":-75},{"d":422,"r":-75},{"d":425.5,"r":-75},{"d":434.9,"r":-75},{"d":446.9,"r":-75},{"d":450.6,"r":-75},{"d":455.4,"r":-75},{"d":463.5,"r":-75},{"d":470.6,"r":-75},{"d":474,"r":-75},{"d":481.1,"r":-75},{"d":492.6,"r":-75},{"d":494.3,"r":-75},{"d":499.7,"r":-75},{"d":506.3,"r":-75},{"d":508.5,"r":-75},{"d":513.4,"r":-75},{"d":519.9,"r":-75},{"d":522.8,"r":-75},{"d":525.6,"r":-75},{"d":527.7,"r":-75},{"d":538.5,"r":-75},{"d":543.3,"r":-75},{"d":552.5,"r":-75},{"d":557,"r":-75},{"d":562.8,"r":-75},{"d":567.6,"r":-75},{"d":571.9,"r":-75},{"d":574.8,"r":-75},{"d":577.6,"r":-75},{"d":581.9,"r":-75},{"d":586.2,"r":-75},{"d":662.6,"r":-75},{"d":669.5,"r":-75},{"d":673.2,"r":-75},{"d":684,"r":-75},{"d":690.4,"r":-75},{"d":710.3,"r":-75},{"d":715.2,"r":-75},{"d":722.6,"r":-75},{"d":731.1,"r":-75},{"d":735.4,"r":-75},{"d":737.4,"r":-75},{"d":751.7,"r":-75},{"d":754.6,"r":-75},{"d":760.8,"r":-75},{"d":766,"r":-75},{"d":776.9,"r":-75},{"d":780.3,"r":-75},{"d":787.4,"r":-75},{"d":790.2,"r":-75},{"d":796.8,"r":-75},{"d":812.5,"r":-75},{"d":819.3,"r":-75},
{"d":343,"r":-76},{"d":347.9,"r":-76},{"d":349.8,"r":-76},{"d":354.4,"r":-76},{"d":383,"r":-76},{"d":385.8,"r":-76},{"d":388.6,"r":-76},{"d":395,"r":-76},{"d":396.9,"r":-76},{"d":404.9,"r":-76},{"d":414.3,"r":-76},{"d":422,"r":-76},{"d":434.9,"r":-76},{"d":454.9,"r":-76},{"d":457.1,"r":-76},{"d":492.8,"r":-76},{"d":499.1,"r":-76},{"d":503,"r":-76},{"d":507.6,"r":-76},{"d":511.9,"r":-76},{"d":516.2,"r":-76},{"d":520.5,"r":-76},{"d":523.4,"r":-76},{"d":527.7,"r":-76},{"d":557.1,"r":-76},{"d":561.3,"r":-76},{"d":566.2,"r":-76},{"d":570.5,"r":-76},{"d":575.3,"r":-76},{"d":577,"r":-76},{"d":581.3,"r":-76},{"d":586.2,"r":-76},{"d":595.3,"r":-76},{"d":674.6,"r":-76},{"d":689.8,"r":-76},{"d":777.4,"r":-76},{"d":798.9,"r":-76},
{"d":347.3,"r":-77},{"d":354.1,"r":-77},{"d":356.4,"r":-77},{"d":387.8,"r":-77},{"d":392.9,"r":-77},{"d":410.6,"r":-77},{"d":418.6,"r":-77},{"d":426.3,"r":-77},{"d":482,"r":-77},{"d":511.1,"r":-77},{"d":525.6,"r":-77},{"d":558.2,"r":-77},{"d":560.5,"r":-77},{"d":564.8,"r":-77},{"d":568.4,"r":-77},{"d":573.9,"r":-77},{"d":583.3,"r":-77},{"d":683.2,"r":-77},{"d":787.4,"r":-77},
{"d":355.2,"r":-78},{"d":368.7,"r":-78},{"d":389.2,"r":-78},{"d":390.7,"r":-78},{"d":394.9,"r":-78},{"d":413.5,"r":-78},{"d":418.6,"r":-78},{"d":420.1,"r":-78},{"d":427.2,"r":-78},{"d":429.2,"r":-78},{"d":467.4,"r":-78},{"d":481.1,"r":-78},{"d":509.7,"r":-78},{"d":511.9,"r":-78},{"d":514.8,"r":-78},{"d":518.5,"r":-78},{"d":568.2,"r":-78},{"d":570.5,"r":-78},{"d":574.8,"r":-78},{"d":583.8,"r":-78},{"d":586.2,"r":-78},
{"d":345.8,"r":-79},{"d":434.9,"r":-79},{"d":489.7,"r":-79},{"d":496.5,"r":-79},{"d":541.9,"r":-79},{"d":565.6,"r":-79},
{"d":431.4,"r":-80},{"d":565.6,"r":-80},
{"d":392.1,"r":-81},
{"d":834,"r":-85}
]},
"layer": [
{"mark": {"type": "point", "filled": true, "shape": "circle", "size": 26, "color": "#0000ff", "opacity": 1, "clip": false},
 "encoding": {
  "x": {"field": "d", "type": "quantitative", "scale": {"domain": [336.3, 834], "nice": false, "zero": false},
        "axis": {"orient": "bottom", "values": [350,400,450,500,550,600,650,700,750,800], "grid": false, "domain": false, "tickSize": -5, "tickColor": "#262626", "labelColor": "#262626", "labelFont": "Liberation Sans", "labelFontSize": 15.5, "labelPadding": 13, "title": "Julian Day", "titleFont": "Liberation Sans", "titleFontSize": 17, "titleFontWeight": "normal", "titleColor": "#262626", "titlePadding": 11}},
  "y": {"field": "r", "type": "quantitative", "scale": {"domain": [-85, -55], "nice": false, "zero": false},
        "axis": {"orient": "left", "values": [-85,-80,-75,-70,-65,-60,-55], "labelExpr": "'-' + abs(datum.value)", "grid": false, "domain": false, "tickSize": -5, "tickColor": "#262626", "labelColor": "#262626", "labelFont": "Liberation Sans", "labelFontSize": 15.5, "labelPadding": 14, "title": "RSSI", "titleFont": "Liberation Sans", "titleFontSize": 17, "titleFontWeight": "normal", "titleColor": "#262626", "titlePadding": 7}}
 }},
{"mark": {"type": "point", "opacity": 0},
 "encoding": {
  "x": {"field": "d", "type": "quantitative", "scale": {"domain": [336.3, 834], "nice": false, "zero": false},
        "axis": {"orient": "top", "values": [350,400,450,500,550,600,650,700,750,800], "grid": false, "domain": false, "tickSize": -5, "tickColor": "#262626", "labels": false, "title": null}},
  "y": {"field": "r", "type": "quantitative", "scale": {"domain": [-85, -55], "nice": false, "zero": false},
        "axis": {"orient": "right", "values": [-85,-80,-75,-70,-65,-60,-55], "grid": false, "domain": false, "tickSize": -5, "tickColor": "#262626", "labels": false, "title": null}}
 }}
],
"resolve": {"axis": {"x": "independent", "y": "independent"}}
}
